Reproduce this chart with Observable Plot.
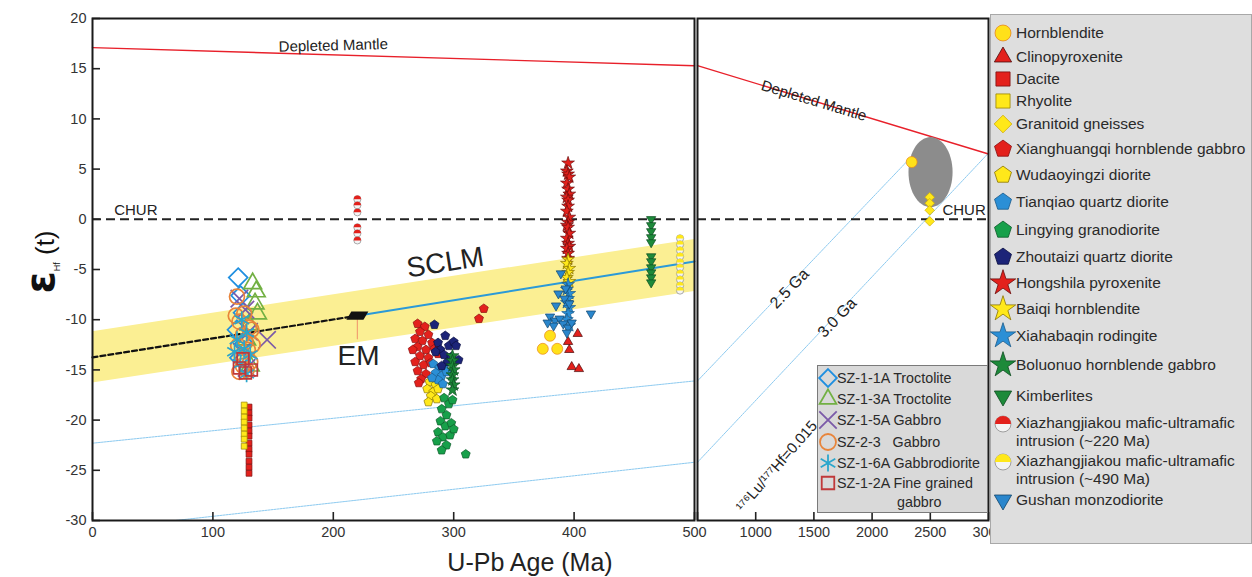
<!DOCTYPE html>
<html><head><meta charset="utf-8">
<script src="https://cdn.jsdelivr.net/npm/d3@7"></script>
<script src="https://cdn.jsdelivr.net/npm/@observablehq/plot@0.6"></script>
<style>
body{margin:0;background:#fff;font-family:"Liberation Sans",Arial,sans-serif;}
#wrap{position:relative;width:1252px;height:577px;overflow:hidden;background:#fff;}
.abs{position:absolute;}
#legend{left:990px;top:14px;width:262px;height:530px;background:#dedede;border:1px solid #a8a8a8;box-sizing:border-box;padding-top:6px;z-index:5;}
#legend .row{display:flex;align-items:center;font-size:15.5px;color:#2a2a2a;white-space:nowrap;}
#legend .row.two{align-items:flex-start;line-height:18px;padding-top:3px;box-sizing:border-box;}
#legend svg{flex:0 0 auto;margin:0 3px 0 2px;}
#inset{left:817px;top:365px;width:171px;height:148px;background:#d9d9d9;border:1px solid #7a7a7a;box-sizing:border-box;padding-top:1px;z-index:4;}
#inset .row{display:flex;align-items:center;height:21.4px;font-size:14.3px;color:#2a2a2a;white-space:nowrap;}
#inset .row.two{height:40px;align-items:flex-start;line-height:19px;}
#inset .l2{padding-left:60px;}
#inset svg{flex:0 0 auto;margin:0 0 0 1px;}
#ylab{left:40px;top:262px;transform:translate(-50%,-50%) rotate(-90deg);white-space:nowrap;font-size:26px;color:#111;}
#xlab{left:530px;top:562px;transform:translate(-50%,-50%);white-space:nowrap;font-size:25px;color:#222;}
svg{overflow:visible;}
</style></head>
<body><div id="wrap"></div>
<script>
// ---------- tick labels ----------
const xTicksLeft = [0, 100, 200, 300, 400, 500];
const xTicksRight = [1000, 1500, 2000, 2500, 3000];
const yTicks = [20, 15, 10, 5, 0, -5, -10, -15, -20, -25, -30];

// ---------- reference curves (age Ma, εHf) ----------
const depletedMantleLeft = [[0, 17.1], [500, 15.3]];
const depletedMantleRight = [[500, 15.3], [3000, 6.5]];
const sclmBand = [[0, -16.3, -11.2], [500, -7.2, -2.0]];
const sclmTrendDashed = [[0, -13.75], [220, -9.6]];
const sclmTrendSolid = [[220, -9.6], [500, -4.2]];
const emPoint = [[220, -9.6]];
const emLeader = [[220, -10.0], [220, -11.9]];
const evol25Left = [[0, -22.3], [500, -16.1]];
const evol25Right = [[500, -16.1], [2500, 8.2]];
const evol30Left = [[69, -30], [500, -24.2]];
const evol30Right = [[500, -24.2], [3000, 6.6]];
const mantleEllipse = [[2502, 4.7]];

// ---------- data series (age Ma, εHf(t)) ----------
const hornblendite = [[380, -11.6], [374, -12.9], [386, -12.9], [2340, 5.7]];
const clinopyroxenite = [[403, -11.4], [395, -12.2], [396, -13.0], [398, -14.7], [404, -14.9]];
const dacite = [[130, -18.7], [130, -19.3], [130, -19.8], [130, -20.5], [130, -21.1], [130, -21.6], [130, -22.3], [130, -22.9], [130, -23.4], [130, -24.1], [130, -24.7], [130, -25.3]];
const rhyolite = [[126, -18.5], [126, -19.1], [126, -19.7], [126, -20.2], [126, -20.8], [126, -21.4], [126, -21.9], [126, -22.6]];
const granitoidGneisses = [[2495, 2.2], [2495, 1.6], [2495, 0.9], [2495, -0.2]];
const xianghuangqi = [[270, -10.4], [276, -10.7], [272, -11.2], [279, -11.5], [268, -11.9], [274, -12.1], [282, -12.3], [270, -12.7], [277, -13.0], [284, -12.9], [272, -13.6], [279, -13.8], [268, -14.2], [275, -14.5], [281, -14.3], [270, -15.1], [277, -15.4], [273, -15.9], [283, -15.8], [271, -16.3], [266, -13.0], [287, -13.4], [325, -8.9], [321, -9.9]];
const wudaoyingzi = [[280, -16.2], [285, -16.5], [278, -16.9], [283, -17.2], [287, -16.9], [281, -17.6], [286, -17.9], [279, -18.2]];
const tianqiao = [[283, -14.4], [288, -14.8], [292, -14.6], [285, -15.3], [290, -15.6], [294, -15.2], [287, -16.0], [282, -15.8], [291, -16.4]];
const lingying = [[292, -17.8], [296, -18.4], [290, -18.9], [294, -19.5], [289, -20.1], [293, -20.6], [298, -20.3], [287, -21.2], [291, -21.7], [297, -21.5], [286, -22.1], [294, -22.5], [290, -23.0], [310, -23.4], [300, -20.9], [299, -18.0]];
const zhoutaizi = [[284, -10.5], [293, -11.6], [287, -12.3], [296, -12.6], [289, -13.0], [300, -12.2], [292, -13.5], [285, -13.2], [304, -14.0], [295, -14.2], [290, -14.6], [298, -13.7], [302, -12.6]];
const hongshila = [[395, 5.6], [394, 4.8], [395, 4.5], [396, 4.2], [394, 3.6], [395, 3.0], [396, 2.5], [394, 2.2], [395, 1.9], [395, 1.3], [394, 0.8], [396, 0.2], [395, -0.3], [394, -0.6], [395, -0.8], [396, -1.4], [394, -1.9], [395, -2.4], [396, -2.7], [394, -2.9], [395, -3.4], [395, -3.9]];
const baiqi = [[395, -4.0], [394, -4.4], [396, -4.9], [395, -5.3], [394, -5.8], [396, -6.2]];
const xiahabaqin = [[395, -6.5], [394, -7.0], [396, -7.4], [395, -7.9], [394, -8.3], [396, -8.8], [395, -9.4], [394, -10.0], [396, -10.6]];
const boluonuo = [[299, -13.6], [299, -14.1], [299, -14.6], [300, -15.0], [299, -15.5], [299, -16.0], [300, -16.5], [299, -17.0]];
const kimberlites = [[464, 0.0], [464, -0.6], [464, -1.2], [464, -1.8], [464, -2.3], [464, -3.7], [464, -4.2], [464, -4.8], [464, -5.3], [464, -5.8], [464, -6.3]];
const xiazhangjiakou220 = [[220, 2.0], [220, 1.4], [220, 0.7], [220, -0.8], [220, -1.4], [220, -2.1]];
const xiazhangjiakou490 = [[488, -1.9], [488, -2.5], [488, -3.1], [488, -3.7], [488, -4.3], [488, -4.8], [488, -5.4], [488, -6.0], [488, -6.6], [488, -7.1]];
const gushan = [[389, -5.4], [387, -7.4], [392, -7.9], [385, -8.6], [380, -9.7], [384, -10.1], [388, -9.9], [391, -10.4], [395, -10.8], [383, -10.6], [398, -10.3], [394, -11.3], [378, -10.3], [414, -9.4], [393, -6.9], [396, -8.4]];

// this study (open symbols)
const sz11A = [[121, -5.8], [123, -7.6], [125, -9.3], [120, -11.0], [126, -12.4], [122, -13.8]];
const sz13A = [[133, -6.4], [136, -7.2], [135, -8.4], [137, -9.4], [130, -10.5], [128, -12.0], [131, -14.6]];
const sz15A = [[122, -7.9], [127, -9.0], [145, -12.0], [130, -11.2], [124, -13.2], [128, -14.8]];
const sz23 = [[120, -7.7], [126, -9.4], [122, -10.2], [130, -10.8], [125, -11.5], [132, -11.0], [127, -12.2], [121, -12.6], [129, -13.0], [124, -13.6], [131, -14.2], [125, -14.6], [128, -15.0], [122, -15.2], [133, -12.5], [119, -9.6]];
const sz16A = [[124, -10.0], [128, -11.3], [120, -12.0], [126, -12.9], [131, -13.5], [123, -14.4], [128, -15.4], [118, -13.2]];
const sz12A = [[122, -14.8], [127, -15.3], [132, -15.0], [125, -13.9]];

// ---------- custom symbols ----------
const pentagon = {draw(c, s) {const R = Math.sqrt(s / Math.PI) * 1.12; for (let k = 0; k < 5; k++) {const a = -Math.PI / 2 + k * 2 * Math.PI / 5; const px = R * Math.cos(a), py = R * Math.sin(a); k ? c.lineTo(px, py) : c.moveTo(px, py);} c.closePath();}};
const triUp = {draw(c, s) {const R = Math.sqrt(s / Math.PI) * 1.25; c.moveTo(0, -R); c.lineTo(R * 0.866, R * 0.5); c.lineTo(-R * 0.866, R * 0.5); c.closePath();}};
const triDown = {draw(c, s) {const R = Math.sqrt(s / Math.PI) * 1.25; c.moveTo(0, R); c.lineTo(-R * 0.866, -R * 0.5); c.lineTo(R * 0.866, -R * 0.5); c.closePath();}};
const halfTop = {draw(c, s) {const r = Math.sqrt(s / Math.PI); c.moveTo(-r, 0); c.arc(0, 0, r, Math.PI, 2 * Math.PI); c.closePath();}};
const ellipseSym = {draw(c, s) {const r = Math.sqrt(s / Math.PI); const rx = r * 0.63; for (let k = 0; k <= 60; k++) {const a = k / 60 * 2 * Math.PI; const px = rx * Math.cos(a), py = r * Math.sin(a); k ? c.lineTo(px, py) : c.moveTo(px, py);} c.closePath();}};
const parallelogram = {draw(c, s) {const r = Math.sqrt(s / Math.PI); c.moveTo(-r, r * 0.38); c.lineTo(-r * 0.55, -r * 0.38); c.lineTo(r, -r * 0.38); c.lineTo(r * 0.55, r * 0.38); c.closePath();}};

const RED = "#e3211c", YEL = "#ffe81a", LBLUE = "#2b8fd6", GREEN = "#17a04a", NAVY = "#1c2478", DGREEN = "#1d8a3a";

const series = [
  {name: "Hornblendite", data: hornblendite, symbol: "circle", fill: "#ffe11a", stroke: "#e8861a", r: 5.5},
  {name: "Clinopyroxenite", data: clinopyroxenite, symbol: triUp, fill: RED, stroke: "#4a0a0a", r: 4.3},
  {name: "Dacite", data: dacite, symbol: "square", fill: RED, stroke: "#7a1010", r: 3.3},
  {name: "Rhyolite", data: rhyolite, symbol: "square", fill: YEL, stroke: "#9a8400", r: 3.3},
  {name: "Granitoid gneisses", data: granitoidGneisses, symbol: "diamond2", fill: YEL, stroke: "#d0ac00", r: 4.3},
  {name: "Xianghuangqi hornblende gabbro", data: xianghuangqi, symbol: pentagon, fill: RED, stroke: "#8a1010", r: 4.2},
  {name: "Wudaoyingzi diorite", data: wudaoyingzi, symbol: pentagon, fill: YEL, stroke: "#8a7400", r: 4.2},
  {name: "Tianqiao quartz diorite", data: tianqiao, symbol: pentagon, fill: LBLUE, stroke: "#1a5a8a", r: 4.2},
  {name: "Lingying granodiorite", data: lingying, symbol: pentagon, fill: GREEN, stroke: "#0c5a28", r: 4.2},
  {name: "Zhoutaizi quartz diorite", data: zhoutaizi, symbol: pentagon, fill: NAVY, stroke: "#0c1040", r: 4.2},
  {name: "Hongshila pyroxenite", data: hongshila, symbol: "star", fill: RED, stroke: "#6a0a0a", r: 4.0},
  {name: "Baiqi hornblendite", data: baiqi, symbol: "star", fill: YEL, stroke: "#8a7400", r: 4.0},
  {name: "Xiahabaqin rodingite", data: xiahabaqin, symbol: "star", fill: LBLUE, stroke: "#1a5a8a", r: 4.0},
  {name: "Boluonuo hornblende gabbro", data: boluonuo, symbol: "star", fill: DGREEN, stroke: "#0c4a20", r: 4.0},
  {name: "Kimberlites", data: kimberlites, symbol: triDown, fill: DGREEN, stroke: "#0c4a20", r: 4.3},
  {name: "Xiazhangjiakou mafic-ultramafic|intrusion (~220 Ma)", data: xiazhangjiakou220, half: RED, r: 3.6},
  {name: "Xiazhangjiakou mafic-ultramafic|intrusion (~490 Ma)", data: xiazhangjiakou490, half: YEL, r: 3.6},
  {name: "Gushan monzodiorite", data: gushan, symbol: triDown, fill: "#2a86cc", stroke: "#12456a", r: 4.3}
];
const studySeries = [
  {name: "SZ-1-1A Troctolite", data: sz11A, symbol: "diamond2", stroke: "#1f8fe0", r: 8.5},
  {name: "SZ-1-3A Troctolite", data: sz13A, symbol: "triangle2", stroke: "#72b043", r: 8.5},
  {name: "SZ-1-5A Gabbro", data: sz15A, symbol: "times", stroke: "#7b5aa8", r: 8},
  {name: "SZ-2-3 \u00a0\u00a0Gabbro", data: sz23, symbol: "circle", stroke: "#e8843a", r: 7.5},
  {name: "SZ-1-6A Gabbrodiorite", data: sz16A, symbol: "asterisk", stroke: "#2aa6cc", r: 8},
  {name: "SZ-1-2A Fine grained|gabbro", data: sz12A, symbol: "square2", stroke: "#c0393a", r: 7.5}
];

// legend row heights (layout only)
const legendRowHeights = [24, 23, 21, 23, 24, 26, 26, 28, 27, 27, 26, 26, 27, 31, 31, 38, 38, 26];

const FONT = '"Liberation Sans", Arial, sans-serif';
const X = d => d[0], Y = d => d[1];

function seriesMarks(list, keep) {
  const out = [];
  for (const s of list) {
    const d = s.data.filter(keep);
    if (!d.length) continue;
    if (s.half) {
      out.push(Plot.dot(d, {x: X, y: Y, r: s.r, symbol: "circle", fill: "#f4f4f4", stroke: "#8a8a8a", strokeWidth: 0.7}));
      out.push(Plot.dot(d, {x: X, y: Y, r: s.r, symbol: halfTop, fill: s.half, stroke: "none"}));
    } else if (s.fill) {
      out.push(Plot.dot(d, {x: X, y: Y, r: s.r, symbol: s.symbol, fill: s.fill, stroke: s.stroke, strokeWidth: 0.7}));
    } else {
      out.push(Plot.dot(d, {x: X, y: Y, r: s.r, symbol: s.symbol, fill: "none", stroke: s.stroke, strokeWidth: 1.7}));
    }
  }
  return out;
}

const yScale = {domain: [-30, 20]};
const common = {height: 577, marginTop: 18, marginBottom: 57, style: {fontFamily: FONT, fontSize: "14.5px", color: "#333", background: "transparent", overflow: "visible"}};

const left = Plot.plot({
  ...common, width: 696, marginLeft: 92, marginRight: 2,
  x: {domain: [0, 500], axis: null}, y: {...yScale, axis: null},
  marks: [
    Plot.areaY(sclmBand, {x: X, y1: d => d[1], y2: d => d[2], fill: "#fbef93"}),
    Plot.line(evol25Left, {x: X, y: Y, stroke: "#8ccaf0", strokeWidth: 1, strokeDasharray: "2,1"}),
    Plot.line(evol30Left, {x: X, y: Y, stroke: "#8ccaf0", strokeWidth: 1, strokeDasharray: "2,1"}),
    Plot.line(depletedMantleLeft, {x: X, y: Y, stroke: "#e8202a", strokeWidth: 1.4}),
    Plot.ruleY([0], {stroke: "#222", strokeWidth: 2, strokeDasharray: "9,5"}),
    Plot.line(sclmTrendDashed, {x: X, y: Y, stroke: "#111", strokeWidth: 2.2, strokeDasharray: "5,3"}),
    Plot.line(sclmTrendSolid, {x: X, y: Y, stroke: "#2b9ad8", strokeWidth: 2}),
    Plot.line(emLeader, {x: X, y: Y, stroke: "#f2a070", strokeWidth: 1.2}),
    Plot.dot(emPoint, {x: X, y: Y, r: 11, symbol: parallelogram, fill: "#111"}),
    ...seriesMarks(series, d => d[0] <= 500),
    ...seriesMarks(studySeries, d => d[0] <= 500),
    Plot.text(["Depleted Mantle"], {x: 200, y: 17.3, text: d => d, rotate: -1.5, fontSize: 15, fill: "#222"}),
    Plot.text(["CHUR"], {x: 36, y: 0.9, text: d => d, fontSize: 15, fill: "#222"}),
    Plot.text(["SCLM"], {x: 293, y: -4.3, text: d => d, rotate: -9, fontSize: 28, fill: "#222"}),
    Plot.text(["EM"], {x: 221, y: -13.6, text: d => d, fontSize: 28, fill: "#222"}),
    Plot.axisX(xTicksLeft, {anchor: "bottom", tickSize: -8, tickPadding: 14, tickFormat: d => String(d), label: null, stroke: "#222", strokeWidth: 1.6}),
    Plot.axisY(yTicks, {anchor: "left", tickSize: -8, tickPadding: 14, tickFormat: d => String(d), label: null, stroke: "#222", strokeWidth: 1.6}),
    Plot.frame({stroke: "#1a1a1a", strokeWidth: 2})
  ]
});

const right = Plot.plot({
  ...common, width: 296, marginLeft: 3, marginRight: 2,
  x: {domain: [500, 3000], axis: null}, y: {...yScale, axis: null},
  marks: [
    Plot.line(evol25Right, {x: X, y: Y, stroke: "#8ccaf0", strokeWidth: 1, strokeDasharray: "2,1"}),
    Plot.line(evol30Right, {x: X, y: Y, stroke: "#8ccaf0", strokeWidth: 1, strokeDasharray: "2,1"}),
    Plot.line(depletedMantleRight, {x: X, y: Y, stroke: "#e8202a", strokeWidth: 1.4}),
    Plot.ruleY([0], {stroke: "#222", strokeWidth: 2, strokeDasharray: "9,5"}),
    Plot.dot(mantleEllipse, {x: X, y: Y, r: 35, symbol: ellipseSym, fill: "#8c8c8c"}),
    ...seriesMarks(series, d => d[0] > 500),
    Plot.text(["Depleted Mantle"], {x: 1500, y: 11.8, text: d => d, rotate: 16.8, fontSize: 15, fill: "#222"}),
    Plot.text(["CHUR"], {x: 2790, y: 0.9, text: d => d, fontSize: 15, fill: "#222"}),
    Plot.text(["2.5 Ga"], {x: 1290, y: -6.9, text: d => d, rotate: -46, fontSize: 16, fill: "#222"}),
    Plot.text(["3.0 Ga"], {x: 1700, y: -9.8, text: d => d, rotate: -46, fontSize: 16, fill: "#222"}),
    Plot.text(["\u00b9\u2077\u2076Lu/\u00b9\u2077\u2077Hf=0.015"], {x: 1180, y: -24.6, text: d => d, rotate: -49, fontSize: 15, fill: "#222"}),
    Plot.axisX([500, ...xTicksRight], {anchor: "bottom", tickSize: -8, tickPadding: 14, tickFormat: d => d === 500 ? "" : String(d), label: null, stroke: "#222", strokeWidth: 1.6}),
    Plot.frame({stroke: "#1a1a1a", strokeWidth: 2})
  ]
});

const wrap = document.getElementById("wrap");
left.style.position = "absolute"; left.style.left = "0px"; left.style.top = "0px"; left.style.zIndex = 2;
right.style.position = "absolute"; right.style.left = "694px"; right.style.top = "0px"; right.style.zIndex = 1;
wrap.appendChild(left);
wrap.appendChild(right);

function symPath(s, size) {
  const t = s.half ? d3.symbolCircle : (typeof s.symbol === "object" ? s.symbol : ({
    circle: d3.symbolCircle, square: d3.symbolSquare, diamond: d3.symbolDiamond, star: d3.symbolStar,
    diamond2: d3.symbolDiamond2, triangle2: d3.symbolTriangle2, times: d3.symbolTimes, asterisk: d3.symbolAsterisk, square2: d3.symbolSquare2
  })[s.symbol]);
  return d3.symbol().type(t).size(size)();
}

function legendRow(s, size, w, open, h) {
  const row = document.createElement("div");
  const lines = s.name.split("|");
  row.className = "row" + (lines.length > 1 ? " two" : "");
  if (h) row.style.height = h + "px";
  let svg = `<svg width="${w}" height="${w}" viewBox="${-w / 2} ${-w / 2} ${w} ${w}">`;
  if (s.half) {
    svg += `<path d="${symPath(s, size)}" fill="#f4f4f4" stroke="#8a8a8a" stroke-width="0.8"/>`;
    svg += `<path d="${d3.symbol().type(halfTop).size(size)()}" fill="${s.half}"/>`;
  } else if (open) {
    svg += `<path d="${symPath(s, size)}" fill="none" stroke="${s.stroke}" stroke-width="1.8"/>`;
  } else {
    svg += `<path d="${symPath(s, size)}" fill="${s.fill}" stroke="${s.stroke}" stroke-width="0.8"/>`;
  }
  svg += `</svg>`;
  const text = lines.length > 1 ? `${lines[0]}<br><span class="l2">${lines[1]}</span>` : lines[0];
  row.innerHTML = svg + `<span>${text}</span>`;
  return row;
}

const legend = document.createElement("div");
legend.id = "legend"; legend.className = "abs";
series.forEach((s, i) => legend.appendChild(legendRow(s, 200, 20, false, legendRowHeights[i])));
wrap.appendChild(legend);

const inset = document.createElement("div");
inset.id = "inset"; inset.className = "abs";
for (const s of studySeries) inset.appendChild(legendRow(s, 200, 18, true, null));
wrap.appendChild(inset);

const ylab = document.createElement("div");
ylab.id = "ylab"; ylab.className = "abs";
ylab.innerHTML = '<span style="font-size:40px;font-weight:bold;font-family:\'DejaVu Sans\',sans-serif">ε</span><sub style="font-size:9px">Hf</sub> (t)';
wrap.appendChild(ylab);

const xlab = document.createElement("div");
xlab.id = "xlab"; xlab.className = "abs";
xlab.textContent = "U-Pb Age (Ma)";
wrap.appendChild(xlab);
</script>
</body></html>
